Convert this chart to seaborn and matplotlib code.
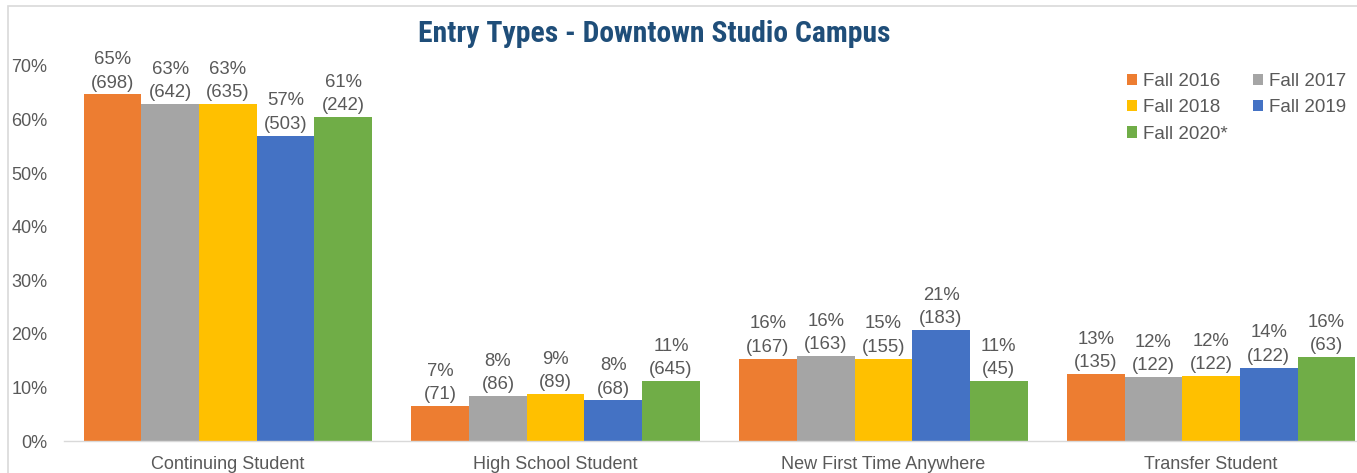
import matplotlib
matplotlib.use("Agg")
import matplotlib.pyplot as plt
import seaborn as sns
import pandas as pd
from matplotlib.patches import Rectangle
from matplotlib import font_manager
from matplotlib.font_manager import FontProperties

categories = ["Continuing Student", "High School Student", "New First Time Anywhere", "Transfer Student"]
years = ["Fall 2016", "Fall 2017", "Fall 2018", "Fall 2019", "Fall 2020*"]

fall_2016 = [64.7, 6.5, 15.4, 12.5]
fall_2017 = [62.9, 8.4, 15.9, 11.9]
fall_2018 = [62.9, 8.8, 15.4, 12.1]
fall_2019 = [57.0, 7.6, 20.7, 13.7]
fall_2020 = [60.5, 11.2, 11.2, 15.7]

pct_2016 = ["65%", "7%", "16%", "13%"]
pct_2017 = ["63%", "8%", "16%", "12%"]
pct_2018 = ["63%", "9%", "15%", "12%"]
pct_2019 = ["57%", "8%", "21%", "14%"]
pct_2020 = ["61%", "11%", "11%", "16%"]

cnt_2016 = [698, 71, 167, 135]
cnt_2017 = [642, 86, 163, 122]
cnt_2018 = [635, 89, 155, 122]
cnt_2019 = [503, 68, 183, 122]
cnt_2020 = [242, 645, 45, 63]

colors = ["#ED7D31", "#A5A5A5", "#FFC000", "#4472C4", "#70AD47"]

values = [fall_2016, fall_2017, fall_2018, fall_2019, fall_2020]
pcts = [pct_2016, pct_2017, pct_2018, pct_2019, pct_2020]
cnts = [cnt_2016, cnt_2017, cnt_2018, cnt_2019, cnt_2020]

rows = []
for y, vals in zip(years, values):
    for c, v in zip(categories, vals):
        rows.append({"category": c, "year": y, "value": v})
df = pd.DataFrame(rows)

sns.set_theme(style="white")
plt.rcParams["font.family"] = ["Liberation Sans", "DejaVu Sans"]
text_color = "#595959"

W, H = 1357, 473
fig = plt.figure(figsize=(W / 100, H / 100), dpi=100)
ax = fig.add_axes([64 / W, (H - 441) / H, 1311 / W, 375 / H])

sns.barplot(data=df, x="category", y="value", hue="year", hue_order=years,
            order=categories, palette=colors, saturation=1, width=0.88,
            linewidth=0, ax=ax)

for cont, p, n in zip(ax.containers, pcts, cnts):
    labels = [f"{a}\n({b})" for a, b in zip(p, n)]
    ax.bar_label(cont, labels=labels, padding=2, fontsize=13.3, color=text_color,
                 linespacing=1.5)

ax.set_ylim(0, 70)
ax.set_xlim(-0.5, 3.5)
ax.set_yticks(range(0, 71, 10))
ax.set_yticklabels([f"{t}%" for t in range(0, 71, 10)])
ax.set_xlabel("")
ax.set_ylabel("")
ax.tick_params(axis="both", length=0, labelsize=13, labelcolor=text_color)
ax.tick_params(axis="y", pad=12)
ax.tick_params(axis="x", pad=10.5)
for s in ["left", "right", "top"]:
    ax.spines[s].set_visible(False)
ax.spines["bottom"].set_color("#D9D9D9")
ax.spines["bottom"].set_linewidth(1)
ax.grid(False)

handles, labs = ax.get_legend_handles_labels()
ax.get_legend().remove()
order = [0, 2, 4, 1, 3]
fig.legend([handles[i] for i in order], [labs[i] for i in order],
           loc="upper left", bbox_to_anchor=(1127 / W, 1 - 73 / H),
           ncol=2, frameon=False, fontsize=13.5, labelcolor=text_color,
           handlelength=0.55, handleheight=0.55, handletextpad=0.3,
           columnspacing=1.35, labelspacing=0.5, borderpad=0, borderaxespad=0)

# title font: prefer a condensed bold sans (Arial Narrow look)
title_prop = None
prefs = ["liberationsansnarrow-bold", "arialnarrow", "robotocondensed-bold",
         "roboto_condensed-bold", "opensans_condensed-bold", "opensanscondensed-bold",
         "dejavusanscondensed-bold"]
files = [f.fname for f in font_manager.fontManager.ttflist]
for key in prefs:
    hit = [f for f in files if key in f.lower().replace(" ", "").split("/")[-1]]
    if hit:
        title_prop = FontProperties(fname=hit[0])
        break
if title_prop is None:
    title_prop = FontProperties(family="Liberation Sans", weight="bold")

title = fig.text(654 / W, 1 - 34 / H, "Entry Types - Downtown Studio Campus",
                 ha="center", va="center", color="#1F4E79", fontproperties=title_prop)
title.set_fontsize(20)
renderer = fig.canvas.get_renderer()
w = title.get_window_extent(renderer).width
title.set_fontsize(min(22, 20 * 472 / w))

fig.add_artist(Rectangle((8 / W, -0.2), 1.2, 1.2 - 6 / H, transform=fig.transFigure,
                         fill=False, edgecolor="#D9D9D9", linewidth=1.2))

fig.savefig("out.png", dpi=100)
